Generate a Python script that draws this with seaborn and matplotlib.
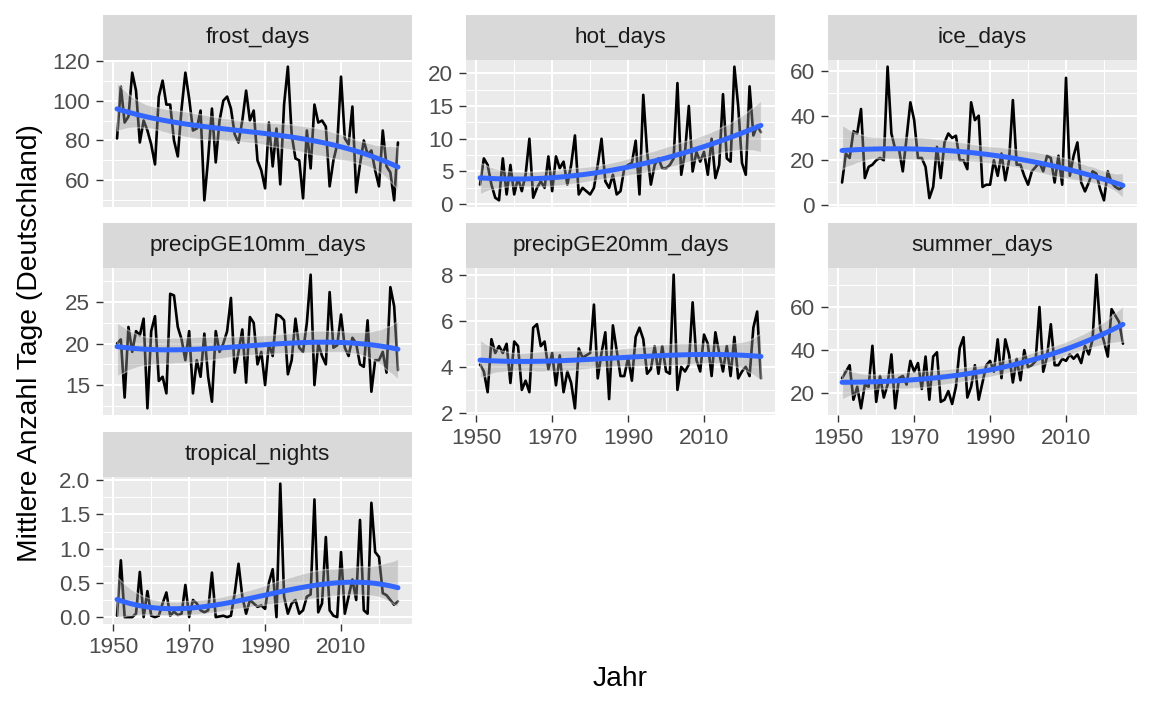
import matplotlib
matplotlib.use("Agg")
import matplotlib.pyplot as plt
from matplotlib.ticker import MultipleLocator
import seaborn as sns

# Jahre 1951-2025
years = list(range(1951, 2026))

frost_days = [81, 107, 89, 92, 114, 105, 79, 90, 85, 78,
              68, 102, 110, 98, 98, 80, 72, 96, 114, 101,
              85, 86, 95, 50, 71, 96, 69, 90, 100, 102,
              96, 83, 79, 90, 105, 90, 95, 70, 65, 56,
              89, 67, 86, 58, 98, 117, 83, 71, 70, 51,
              85, 66, 98, 89, 90, 87, 57, 70, 78, 112,
              81, 78, 97, 54, 68, 80, 73, 75, 65, 57,
              85, 67, 64, 50, 79]

hot_days = [3, 7, 6, 3, 1.0, 0.6, 7, 1.5, 6, 1.5,
            4, 2, 4.5, 10, 1, 2.5, 3.5, 2.5, 7.3, 2,
            7.3, 5.5, 6.5, 3, 6, 10.5, 1.5, 2.5, 2, 1.5,
            2.5, 6, 10, 3.5, 2.5, 4.5, 1.5, 2, 5.5, 6,
            6.3, 9.7, 1.5, 16.7, 8, 3, 6, 7, 5.5, 5.5,
            6, 7, 18.5, 4.5, 8, 15, 5, 8, 6.5, 8,
            4.5, 10, 4, 6, 16.8, 7, 6.5, 21, 15, 6.3,
            4.5, 18, 10.5, 12, 11]

ice_days = [10, 23, 21, 33, 32, 43, 12, 17, 18, 20,
            21, 20, 62, 32, 25, 25, 15, 30, 46, 38,
            21, 21, 17, 3, 8, 26, 12, 28, 32, 30,
            31, 20, 20, 16, 46, 38, 40, 8, 9, 9,
            20, 13, 23, 11, 20, 47, 18, 18, 13, 9,
            15, 17, 19, 15, 22, 21, 10, 22, 9, 57,
            13, 22, 28, 10, 6, 10, 15, 14, 7, 2,
            15, 10, 8, 7, 8]

precipGE10mm_days = [20, 20.5, 13.5, 22, 19, 21.5, 21, 23, 12.2, 21.5,
                     23.3, 15.5, 16, 14, 26, 25.8, 22, 20.5, 18, 21.5,
                     14, 18, 16, 21.2, 16, 13, 21.5, 19, 20, 21.5,
                     25.5, 16.5, 19, 21.7, 15.3, 23.2, 22.5, 17.5, 19, 15,
                     20, 18.5, 23.5, 23.3, 22.8, 16.3, 18, 23, 19.5, 19,
                     22.5, 28.3, 15, 20, 18.5, 17.5, 26.2, 19.5, 19.8, 23.5,
                     19.5, 18.5, 20.7, 20, 17.5, 17.2, 22.8, 14.2, 18, 18,
                     19, 16.5, 26.8, 24.5, 16.8]

precipGE20mm_days = [4.1, 3.8, 2.9, 5.2, 4.6, 4.9, 4.6, 5.0, 3.3, 5.1,
                     4.9, 3.0, 3.4, 2.9, 5.7, 5.85, 4.9, 5.1, 3.9, 4.6,
                     3.2, 4.5, 2.9, 3.8, 3.3, 2.2, 4.8, 4.4, 4.5, 4.6,
                     6.7, 3.5, 4.6, 5.5, 2.6, 5.8, 4.7, 3.6, 3.6, 4.4,
                     3.4, 5.3, 5.7, 5.2, 3.7, 3.9, 4.9, 3.7, 4.9, 3.8,
                     3.7, 8.0, 3.0, 4.0, 3.8, 4.1, 6.8, 4.3, 3.8, 5.4,
                     5.0, 3.6, 5.5, 4.6, 3.8, 4.9, 3.6, 5.3, 3.5, 3.8,
                     4.0, 3.6, 5.7, 6.4, 3.5]

summer_days = [27, 30, 33, 17, 23, 13, 24, 23, 42, 16,
               28, 18, 24, 38, 13, 27, 28, 24, 35, 30,
               34, 22, 37, 17, 37, 39, 16, 17, 21, 15,
               23, 41, 46, 18, 23, 33, 17, 25, 33, 35,
               30, 45, 27, 45, 38, 25, 36, 26, 40, 32,
               33, 35, 60, 30, 37, 52, 33, 33, 36, 35,
               38, 36, 38, 34, 42, 38, 45, 75, 50, 44,
               37, 59, 56, 53, 43]

tropical_nights = [0.02, 0.83, 0.0, 0.0, 0.0, 0.05, 0.66, 0.0, 0.38, 0.02,
                   0.0, 0.02, 0.2, 0.36, 0.02, 0.08, 0.03, 0.05, 0.47, 0.0,
                   0.25, 0.2, 0.1, 0.07, 0.1, 0.65, 0.0, 0.01, 0.02, 0.0,
                   0.02, 0.35, 0.78, 0.3, 0.05, 0.25, 0.2, 0.15, 0.17, 0.12,
                   0.5, 0.7, 0.0, 1.95, 0.3, 0.05, 0.2, 0.25, 0.05, 0.1,
                   0.3, 0.33, 1.72, 0.07, 0.2, 1.17, 0.1, 0.02, 0.0, 0.95,
                   0.05, 0.3, 0.55, 0.25, 1.42, 0.1, 0.05, 1.67, 0.95, 0.88,
                   0.35, 0.32, 0.25, 0.18, 0.23]

panel_names = ["frost_days", "hot_days", "ice_days", "precipGE10mm_days",
               "precipGE20mm_days", "summer_days", "tropical_nights"]
panel_values = [frost_days, hot_days, ice_days, precipGE10mm_days,
                precipGE20mm_days, summer_days, tropical_nights]

x_ticks = [1950, 1970, 1990, 2010]
x_minor = [1960, 1980, 2000, 2020]

# Stil-Einstellungen (nicht Daten)
y_step = {"frost_days": 20, "hot_days": 5, "ice_days": 20, "precipGE10mm_days": 5,
          "precipGE20mm_days": 2, "summer_days": 20, "tropical_nights": 0.5}
bottom_panels = {"precipGE20mm_days", "summer_days", "tropical_nights"}

sns.set_style("darkgrid", {"axes.facecolor": "#EBEBEB", "grid.color": "white"})
plt.rcParams["font.family"] = ["Liberation Sans", "DejaVu Sans"]

W, H = 1152, 711
col_left = [103, 466, 828]
row_top = [15, 223, 432]
panel_w, strip_h, panel_h = 309, 45, 147

fig = plt.figure(figsize=(W / 100, H / 100), dpi=100)

for i, (name, vals) in enumerate(zip(panel_names, panel_values)):
    r, c = divmod(i, 3)
    left = col_left[c]
    top = row_top[r]

    ax = fig.add_axes([left / W, 1 - (top + strip_h + panel_h) / H, panel_w / W, panel_h / H])
    sax = fig.add_axes([left / W, 1 - (top + strip_h) / H, panel_w / W, strip_h / H])
    sax.set_facecolor("#D9D9D9")
    sax.set_xticks([])
    sax.set_yticks([])
    sax.grid(False)
    for sp in sax.spines.values():
        sp.set_visible(False)
    sax.text(0.5, 0.5, name, ha="center", va="center", fontsize=16.2,
             color="#1A1A1A", transform=sax.transAxes)

    sns.lineplot(x=years, y=vals, ax=ax, color="black", linewidth=1.9, zorder=2)
    sns.regplot(x=years, y=vals, ax=ax, order=3, scatter=False, ci=95, seed=7,
                color="#999999", line_kws={"linewidth": 3.6})
    ax.lines[-1].set_color("#3366FF")
    ax.lines[-1].set_zorder(3)
    band = ax.collections[-1]
    band.set_facecolor("#999999")
    band.set_alpha(0.4)
    band.set_zorder(2.5)

    ax.set_xlabel("")
    ax.set_ylabel("")
    ax.set_xlim(1951 - 0.05 * 74, 2025 + 0.05 * 74)
    ax.set_xticks(x_ticks)
    ax.set_xticks(x_minor, minor=True)
    ax.yaxis.set_major_locator(MultipleLocator(y_step[name]))
    ax.yaxis.set_minor_locator(MultipleLocator(y_step[name] / 2))
    ax.grid(which="major", color="white", linewidth=1.5)
    ax.grid(which="minor", color="white", linewidth=0.75)
    for sp in ax.spines.values():
        sp.set_visible(False)

    ax.tick_params(which="major", axis="both", length=5.2, width=1.0, color="#333333",
                   labelsize=16.2, labelcolor="#4D4D4D", pad=4)
    ax.tick_params(which="minor", length=0)
    ax.tick_params(axis="y", left=True)
    if name in bottom_panels:
        ax.tick_params(axis="x", bottom=True, labelbottom=True)
    else:
        ax.tick_params(axis="x", bottom=False, labelbottom=False)

fig.text(30 / W, 1 - 343 / H, "Mittlere Anzahl Tage (Deutschland)", rotation=90,
         ha="center", va="center", fontsize=20.3, color="black")
fig.text(620 / W, 1 - 679 / H, "Jahr", ha="center", va="center", fontsize=20.3, color="black")

fig.savefig("out.png", dpi=100)
